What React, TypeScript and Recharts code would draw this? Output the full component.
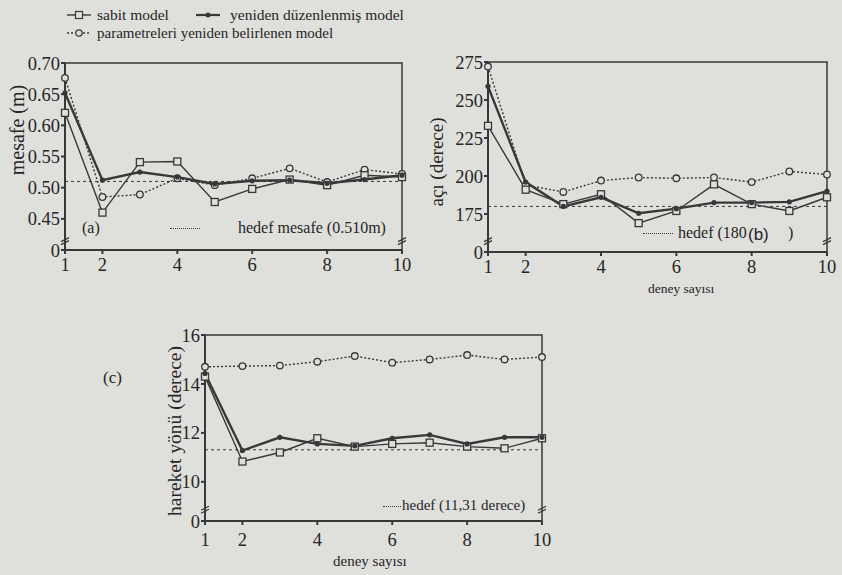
import React from "react";
import { LineChart, Line, XAxis, YAxis, ReferenceLine, ReferenceArea, ReferenceDot } from "recharts";

const PAPER = "#dfdfdc";
const INK = "#383838";
const SERIF = "'Liberation Serif', 'DejaVu Serif', serif";

// deney sayısı (x)
const deneyler = [1, 2, 3, 4, 5, 6, 7, 8, 9, 10];
const xTicks = [1, 2, 4, 6, 8, 10];

// (a) mesafe (m)
const mesafeSabit = [0.62, 0.46, 0.541, 0.542, 0.477, 0.498, 0.513, 0.504, 0.52, 0.517];
const mesafeYeniden = [0.652, 0.512, 0.525, 0.517, 0.506, 0.511, 0.512, 0.507, 0.513, 0.52];
const mesafeParam = [0.676, 0.485, 0.489, 0.515, 0.504, 0.515, 0.531, 0.509, 0.529, 0.522];
const mesafeHedef = 0.51;
const mesafeTicks = [0.4, 0.45, 0.5, 0.55, 0.6, 0.65, 0.7];

// (b) açı (derece)
const aciSabit = [233, 191, 181.5, 188, 169, 177, 194.5, 181.5, 177, 186];
const aciYeniden = [259, 196, 180, 186, 175.5, 178.5, 182.5, 182.5, 183, 190];
const aciParam = [272, 194, 189.5, 197, 199, 198.5, 199, 196, 203, 201];
const aciHedef = 180;
const aciTicks = [150, 175, 200, 225, 250, 275];

// (c) hareket yönü (derece)
const yonSabit = [14.3, 10.83, 11.2, 11.78, 11.44, 11.55, 11.6, 11.44, 11.37, 11.78];
const yonYeniden = [14.43, 11.28, 11.82, 11.55, 11.47, 11.78, 11.92, 11.55, 11.82, 11.82];
const yonParam = [14.7, 14.73, 14.75, 14.91, 15.14, 14.87, 15.0, 15.18, 15.0, 15.1];
const yonHedef = 11.31;
const yonTicks = [8.4, 10, 12, 14, 16];

function rowsOf(s: number[], y: number[], p: number[]) {
  return deneyler.map((d, i) => ({ deney: d, sabit: s[i], yeniden: y[i], param: p[i] }));
}

const squareDot = (p: any) => (
  <rect key={`s${p.index}`} x={p.cx - 3.5} y={p.cy - 3.5} width={7} height={7} fill={PAPER} stroke={INK} strokeWidth={1.3} />
);
const filledDot = (p: any) => <circle key={`y${p.index}`} cx={p.cx} cy={p.cy} r={2.6} fill={INK} />;
const openDot = (p: any) => (
  <circle key={`p${p.index}`} cx={p.cx} cy={p.cy} r={3.3} fill={PAPER} stroke={INK} strokeWidth={1.3} />
);
const breakMark = (p: any) => (
  <g>
    <path d={`M${p.cx - 4} ${p.cy + 1} L${p.cx + 4} ${p.cy - 3} M${p.cx - 4} ${p.cy + 4} L${p.cx + 4} ${p.cy}`} stroke={INK} strokeWidth={1.3} fill="none" />
  </g>
);

const Y_W = 44;
const X_H = 30;

function Panel(props: {
  rows: any[];
  left: number;
  top: number;
  width: number;
  height: number;
  plot: { top: number; right: number; bottom: number; left: number };
  domain: [number, number];
  ticks: number[];
  fmt: (v: number) => string;
  hedef: number;
  xTickMargin: number;
}) {
  const { rows, left, top, width, height, plot, domain, ticks, fmt, hedef, xTickMargin } = props;
  const brk = domain[0] + (ticks[1] - ticks[0]) * 0.3;
  const tickStyle = { fontSize: 18.5, fontFamily: SERIF, fill: "#262626" };
  const margin = { top: plot.top, right: plot.right, left: plot.left - Y_W, bottom: plot.bottom - X_H };
  return (
    <div style={{ position: "absolute", left, top }}>
      <LineChart width={width} height={height} data={rows} margin={margin}>
        <XAxis
          dataKey="deney"
          type="number"
          domain={[1, 10]}
          ticks={xTicks}
          height={X_H}
          tick={tickStyle}
          tickSize={4}
          tickMargin={xTickMargin}
          stroke={INK}
          strokeWidth={2}
          interval={0}
        />
        <YAxis
          type="number"
          domain={domain}
          ticks={ticks}
          tickFormatter={fmt}
          width={Y_W}
          tick={tickStyle}
          tickSize={4}
          tickMargin={1}
          stroke={INK}
          strokeWidth={2}
          interval={0}
          allowDataOverflow
        />
        <ReferenceArea x1={1} x2={10} y1={domain[0]} y2={domain[1]} fill="none" stroke={INK} strokeWidth={1.5} fillOpacity={0} />
        <ReferenceLine y={hedef} stroke={INK} strokeDasharray="3 3" strokeWidth={1} />
        <Line dataKey="param" stroke={INK} strokeWidth={1.4} strokeDasharray="2 2" dot={openDot} isAnimationActive={false} />
        <Line dataKey="sabit" stroke={INK} strokeWidth={1.4} dot={squareDot} isAnimationActive={false} />
        <Line dataKey="yeniden" stroke={INK} strokeWidth={2.4} dot={filledDot} isAnimationActive={false} />
        <ReferenceDot x={1} y={brk} r={4} shape={breakMark} />
        <ReferenceDot x={10} y={brk} r={4} shape={breakMark} />
      </LineChart>
    </div>
  );
}

function Mark({ kind }: { kind: "sabit" | "yeniden" | "param" }) {
  return (
    <svg width={26} height={10} style={{ display: "block" }}>
      <line x1={1} y1={5} x2={25} y2={5} stroke={INK} strokeWidth={kind === "yeniden" ? 2.2 : 1.4} strokeDasharray={kind === "param" ? "2 2" : undefined} />
      {kind === "sabit" && <rect x={9.5} y={1.5} width={7} height={7} fill={PAPER} stroke={INK} strokeWidth={1.2} />}
      {kind === "yeniden" && <circle cx={13} cy={5} r={2.5} fill={INK} />}
      {kind === "param" && <circle cx={13} cy={5} r={3.2} fill={PAPER} stroke={INK} strokeWidth={1.2} />}
    </svg>
  );
}

function Txt({ x, y, size, children, family }: { x: number; y: number; size: number; children: React.ReactNode; family?: string }) {
  return (
    <div style={{ position: "absolute", left: x, top: y - size * 0.6, fontSize: size, fontFamily: family || SERIF, color: "#262626", whiteSpace: "nowrap", lineHeight: 1.2 }}>
      {children}
    </div>
  );
}

function VTxt({ cx, cy, size, children }: { cx: number; cy: number; size: number; children: React.ReactNode }) {
  return (
    <div style={{ position: "absolute", left: cx, top: cy, fontSize: size, fontFamily: SERIF, color: "#262626", whiteSpace: "nowrap", lineHeight: 1, transform: "translate(-50%, -50%) rotate(-90deg)" }}>
      {children}
    </div>
  );
}

function Dash({ x, y, w }: { x: number; y: number; w: number }) {
  return <div style={{ position: "absolute", left: x, top: y, width: w, borderTop: `1.5px dotted ${INK}` }} />;
}

export default function App() {
  return (
    <div style={{ position: "absolute", left: 0, top: 0, width: 842, height: 575, background: PAPER, overflow: "hidden" }}>
      {/* legend */}
      <div style={{ position: "absolute", left: 66, top: 10 }}><Mark kind="sabit" /></div>
      <Txt x={97} y={15} size={15.5}>sabit model</Txt>
      <div style={{ position: "absolute", left: 195, top: 10 }}><Mark kind="yeniden" /></div>
      <Txt x={230} y={15} size={15.5}>yeniden düzenlenmiş model</Txt>
      <div style={{ position: "absolute", left: 66, top: 28 }}><Mark kind="param" /></div>
      <Txt x={97} y={33} size={15}>parametreleri yeniden belirlenen model</Txt>

      <Panel
        rows={rowsOf(mesafeSabit, mesafeYeniden, mesafeParam)}
        left={0}
        top={0}
        width={420}
        height={290}
        plot={{ top: 63, right: 18, bottom: 40, left: 65 }}
        domain={[0.4, 0.7]}
        ticks={mesafeTicks}
        fmt={(v) => (v === 0.4 ? "0" : v.toFixed(2))}
        hedef={mesafeHedef}
        xTickMargin={4}
      />
      <Panel
        rows={rowsOf(aciSabit, aciYeniden, aciParam)}
        left={420}
        top={0}
        width={422}
        height={300}
        plot={{ top: 62, right: 15, bottom: 48, left: 68 }}
        domain={[150, 275]}
        ticks={aciTicks}
        fmt={(v) => (v === 150 ? "0" : String(v))}
        hedef={aciHedef}
        xTickMargin={4}
      />
      <Panel
        rows={rowsOf(yonSabit, yonYeniden, yonParam)}
        left={90}
        top={300}
        width={480}
        height={270}
        plot={{ top: 35, right: 28, bottom: 49, left: 115 }}
        domain={[8.4, 16]}
        ticks={yonTicks}
        fmt={(v) => (v === 8.4 ? "0" : String(v))}
        hedef={yonHedef}
        xTickMargin={8}
      />

      {/* axis titles */}
      <VTxt cx={17} cy={130} size={20}>mesafe (m)</VTxt>
      <VTxt cx={436} cy={162} size={19}>açı (derece)</VTxt>
      <VTxt cx={175} cy={431} size={19.5}>hareket yönü (derece)</VTxt>
      <Txt x={648} y={289} size={13.5}>deney sayısı</Txt>
      <Txt x={333} y={561} size={15}>deney sayısı</Txt>

      {/* panel notes */}
      <Txt x={82} y={228} size={16}>(a)</Txt>
      <Dash x={170} y={228} w={30} />
      <Txt x={238} y={228} size={16}>hedef mesafe (0.510m)</Txt>

      <Dash x={643} y={233} w={30} />
      <Txt x={678} y={233} size={16}>hedef (180</Txt>
      <Txt x={748} y={235} size={17} family="'Liberation Sans', Arial, sans-serif">(b)</Txt>
      <Txt x={788} y={233} size={16}>)</Txt>

      <Txt x={103} y={378} size={17}>(c)</Txt>
      <Dash x={383} y={506} w={18} />
      <Txt x={402} y={505} size={15}>hedef (11,31 derece)</Txt>
    </div>
  );
}
